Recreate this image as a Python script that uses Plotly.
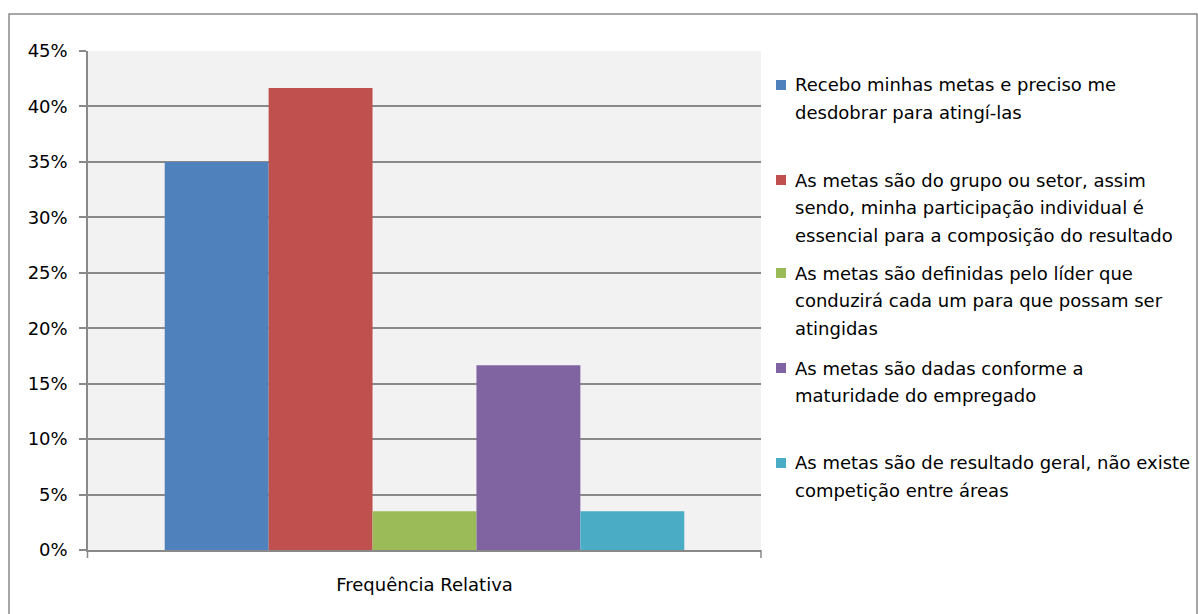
import plotly.graph_objects as go

# Survey answers: relative frequency of each response
categoria = ["Frequência Relativa"]
respostas = [
    "Recebo minhas metas e preciso me desdobrar para atingí-las",
    "As metas são do grupo ou setor, assim sendo, minha participação individual é essencial para a composição do resultado",
    "As metas são definidas pelo líder que conduzirá cada um para que possam ser atingidas",
    "As metas são dadas conforme a maturidade do empregado",
    "As metas são de resultado geral, não existe competição entre áreas",
]
frequencias = [0.35, 0.4167, 0.035, 0.1667, 0.035]
legenda_linhas = [
    ["Recebo minhas metas e preciso me", "desdobrar para atingí-las"],
    ["As metas são do grupo ou setor, assim", "sendo, minha participação individual é",
     "essencial para a composição do resultado"],
    ["As metas são definidas pelo líder que", "conduzirá cada um para que possam ser", "atingidas"],
    ["As metas são dadas conforme a", "maturidade do empregado"],
    ["As metas são de resultado geral, não existe", "competição entre áreas"],
]
y_ticks = [0, 0.05, 0.10, 0.15, 0.20, 0.25, 0.30, 0.35, 0.40, 0.45]
y_tick_labels = ["0%", "5%", "10%", "15%", "20%", "25%", "30%", "35%", "40%", "45%"]

cores = ["#4f81bd", "#c0504d", "#9bbb59", "#8064a2", "#4bacc6"]
FONT = "DejaVu Sans"
FS = 18
GRID = "#898989"

W, H = 1198, 614
L, R, T, B = 88, 761, 51, 550  # plot area in pixels


def px_x(p):
    return (p - L) / (R - L)


def px_y(p):
    return (B - p) / (B - T)


fig = go.Figure()
for nome, valor, cor in zip(respostas, frequencias, cores):
    fig.add_trace(go.Bar(x=categoria, y=[valor], name=nome, marker=dict(color=cor, line_width=0),
                         showlegend=False))

shapes = []
annotations = []

# outer chart frame
shapes.append(dict(type="rect", xref="paper", yref="paper",
                   x0=px_x(9), x1=px_x(1197), y0=px_y(640), y1=px_y(14),
                   line=dict(color=GRID, width=1.5), layer="below"))
# category-edge ticks on the x axis
for xp in (L - 0.5, R):
    shapes.append(dict(type="line", xref="paper", yref="paper",
                       x0=px_x(xp), x1=px_x(xp), y0=px_y(B), y1=px_y(B + 8),
                       line=dict(color=GRID, width=1.5)))

# legend: colour squares and wrapped text
centros = [85, 180, 273, 368, 463]
pitch = 27.5
for cor, linhas, yc in zip(cores, legenda_linhas, centros):
    shapes.append(dict(type="rect", xref="paper", yref="paper",
                       x0=px_x(776), x1=px_x(786), y0=px_y(yc + 5), y1=px_y(yc - 5),
                       fillcolor=cor, line_width=0))
    for i, linha in enumerate(linhas):
        annotations.append(dict(xref="paper", yref="paper", x=px_x(793), y=px_y(yc + i * pitch),
                                xanchor="left", yanchor="middle", text=linha, showarrow=False,
                                font=dict(family=FONT, size=FS, color="#000000")))

fig.update_layout(
    width=W, height=H,
    margin=dict(l=L, r=W - R, t=T, b=H - B),
    paper_bgcolor="white",
    plot_bgcolor="#f2f2f2",
    barmode="group",
    bargap=0.228,
    bargroupgap=0,
    font=dict(family=FONT, size=FS, color="#000000"),
    shapes=shapes,
    annotations=annotations,
    xaxis=dict(showgrid=False, showline=True, linecolor=GRID, linewidth=1.5,
               ticks="", ticklabelstandoff=18, tickfont=dict(family=FONT, size=FS)),
    yaxis=dict(range=[0, 0.45], tickvals=y_ticks, ticktext=y_tick_labels,
               showgrid=True, gridcolor=GRID, gridwidth=1.5,
               showline=True, linecolor=GRID, linewidth=1.5,
               ticks="outside", ticklen=7, tickcolor=GRID, tickwidth=1.5,
               ticklabelstandoff=8, zeroline=False,
               tickfont=dict(family=FONT, size=FS)),
)

fig.write_html("out.html")
